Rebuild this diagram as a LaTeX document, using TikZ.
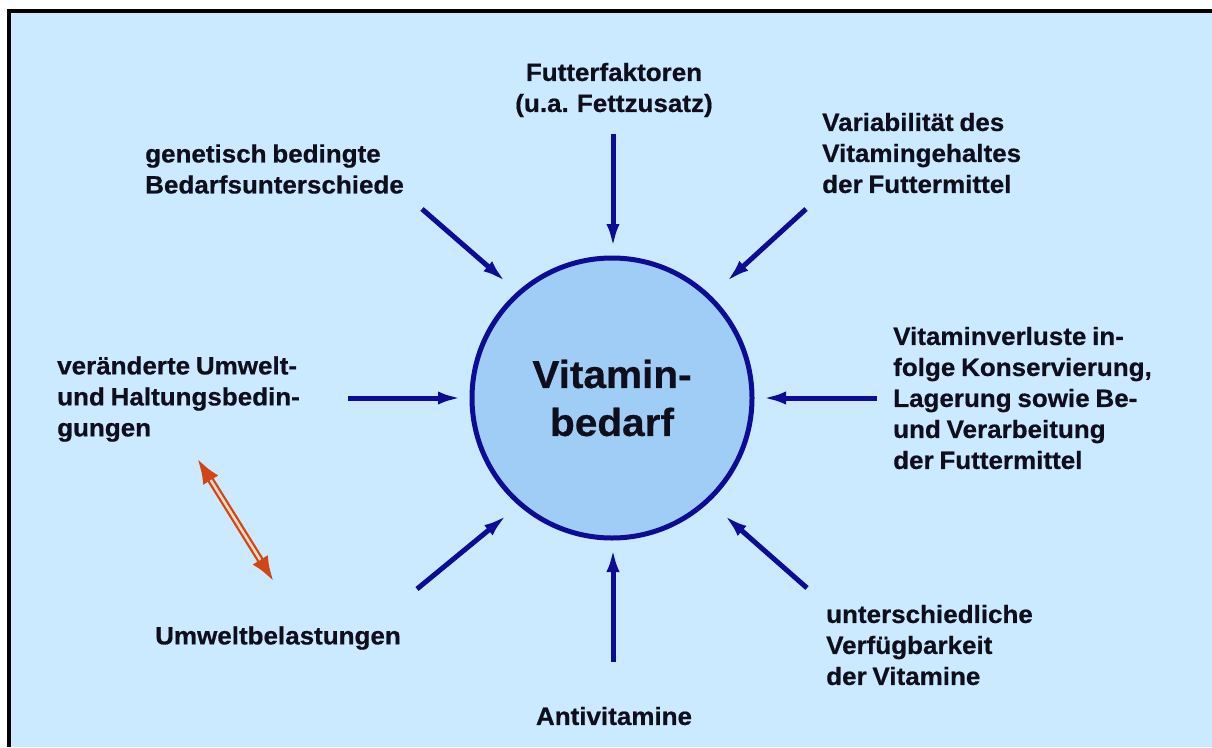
\documentclass[tikz,border=0pt]{standalone}
\usepackage{fontspec}
\setmainfont{Liberation Sans}[FakeStretch=1.04, FakeBold=0.6, WordSpace=0.8]
\usetikzlibrary{arrows.meta}
\definecolor{bg}{RGB}{204,234,255}
\definecolor{circfill}{RGB}{160,205,246}
\definecolor{dblue}{RGB}{12,12,150}
\definecolor{txt}{RGB}{14,14,28}
\definecolor{rarrow}{RGB}{208,70,20}
\definecolor{rin}{RGB}{255,218,195}
\begin{document}
\begin{tikzpicture}[x=1pt,y=-1pt,
  lbl/.style={font=\fontsize{25}{31}\selectfont\bfseries, text=txt, inner sep=0pt, align=left, anchor=west},
  clbl/.style={lbl, align=center, anchor=center},
  arr/.style={draw=dblue, line width=5pt, -{Latex[length=24pt,width=13pt]}},
  redarr/.style={draw=rarrow, line width=7pt, {Latex[length=26pt,width=18pt]}-{Latex[length=26pt,width=18pt]}},
  redin/.style={draw=rin, line width=2.5pt, shorten <=26pt, shorten >=26pt}
]
\useasboundingbox (0,0) rectangle (1212,747);
\fill[white] (0,0) rectangle (1212,747);
\fill[bg] (9,11) rectangle (1212,747);
\draw[line width=4pt, black] (9,747) -- (9,11) -- (1212,11);

% central circle
\node[circle, draw=dblue, line width=5pt, fill=circfill, minimum size=280pt, inner sep=0pt,
      font=\fontsize{39}{48}\selectfont\bfseries, text=txt, align=center] (c) at (612,398) {Vitamin-\\bedarf};

% labels
\node[clbl] (futter) at (614,90) {Futterfaktoren\\(u.a. Fettzusatz)};
\node[lbl] (gen) at (145,169) {genetisch bedingte\\Bedarfsunterschiede};
\node[lbl] (var) at (822,153) {Variabilität des\\Vitamingehaltes\\der Futtermittel};
\node[lbl] (verl) at (893,398) {Vitaminverluste in-\\folge Konservierung,\\Lagerung sowie Be-\\und Verarbeitung\\der Futtermittel};
\node[lbl] (umw) at (57,399) {veränderte Umwelt-\\und Haltungsbedin-\\gungen};
\node[lbl] (bel) at (155,638) {Umweltbelastungen};
\node[clbl] (anti) at (614,716) {Antivitamine};
\node[lbl] (unt) at (826,645) {unterschiedliche\\Verfügbarkeit\\der Vitamine};

% arrow end points
\coordinate (aT1) at (613,134); \coordinate (aT2) at (613,248);
\coordinate (aUL1) at (422,209); \coordinate (aUL2) at (506,282);
\coordinate (aUR1) at (806,209); \coordinate (aUR2) at (726,282);
\coordinate (aL1) at (348,398); \coordinate (aL2) at (462,398);
\coordinate (aR1) at (877,398); \coordinate (aR2) at (762,398);
\coordinate (aLL1) at (417,589); \coordinate (aLL2) at (507,515);
\coordinate (aB1) at (613,662); \coordinate (aB2) at (613,548);
\coordinate (aLR1) at (807,588); \coordinate (aLR2) at (724,515);

\draw[arr] (aT1) -- (aT2);
\draw[arr] (aUL1) -- (aUL2);
\draw[arr] (aUR1) -- (aUR2);
\draw[arr] (aL1) -- (aL2);
\draw[arr] (aR1) -- (aR2);
\draw[arr] (aLL1) -- (aLL2);
\draw[arr] (aB1) -- (aB2);
\draw[arr] (aLR1) -- (aLR2);

% red double arrow
\coordinate (r1) at (197,458);
\coordinate (r2) at (274,582);
\draw[redarr] (r1) -- (r2);
\draw[redin] (r1) -- (r2);
\end{tikzpicture}
\end{document}
